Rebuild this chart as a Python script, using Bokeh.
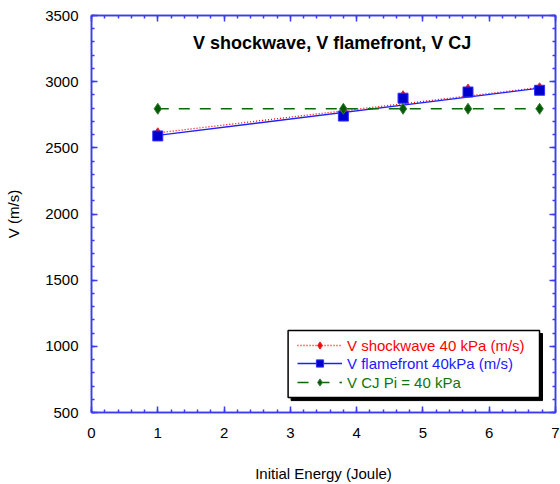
from bokeh.plotting import figure
from bokeh.models import (Range1d, LinearAxis, SingleIntervalTicker, Legend, LegendItem,
                          Label, BoxAnnotation, CustomLabelingPolicy)
from bokeh.embed import file_html
from bokeh.resources import INLINE

# ---- data ----
energy = [1.0, 3.8, 4.7, 5.68, 6.76]
v_shock = [2610, 2785, 2890, 2940, 2950]
v_flame = [2590, 2740, 2875, 2922, 2935]
v_cj = [2795, 2795, 2795, 2795, 2795]
# trend lines drawn in the original (end points)
shock_fit_x = [1.0, 6.76]
shock_fit_y = [2613, 2956]
flame_fit_x = [1.0, 6.76]
flame_fit_y = [2594, 2951]

x_ticks = [0, 1, 2, 3, 4, 5, 6, 7]
y_ticks = [500, 1000, 1500, 2000, 2500, 3000, 3500]

AX = "#3b3bf0"
FONT = "Liberation Sans"

p = figure(width=560, height=484, output_backend="svg", toolbar_location=None,
           x_range=Range1d(x_ticks[0], x_ticks[-1]), y_range=Range1d(y_ticks[0], y_ticks[-1]),
           min_border_left=91, min_border_right=4, min_border_top=15, min_border_bottom=72,
           x_axis_label="Initial Energy (Joule)", y_axis_label="V (m/s)")
p.background_fill_color = "white"
p.border_fill_color = "white"
p.grid.visible = False
p.outline_line_color = AX
p.outline_line_width = 1.5

no_labels = CustomLabelingPolicy(code="""
const all = [...indices];
for (const i of all) indices.unset(i);
return indices;
""")

def style_axis(ax, interval, labels=True):
    ax.ticker = SingleIntervalTicker(interval=interval, num_minor_ticks=5)
    ax.axis_line_color = AX
    ax.axis_line_width = 1.5
    ax.major_tick_line_color = AX
    ax.minor_tick_line_color = AX
    ax.major_tick_line_width = 1.5
    ax.minor_tick_line_width = 1.5
    ax.major_tick_in = 6
    ax.major_tick_out = 0
    ax.minor_tick_in = 3
    ax.minor_tick_out = 0
    ax.major_label_text_font = FONT
    ax.major_label_text_color = "black"
    ax.axis_label_text_font = FONT
    ax.axis_label_text_font_style = "normal"
    ax.axis_label_text_color = "black"
    if labels:
        ax.major_label_text_font_size = "15px"
        ax.axis_label_text_font_size = "15px"
    else:
        ax.major_label_text_font_size = "1px"
        ax.major_label_standoff = 0
        ax.major_label_policy = no_labels

style_axis(p.xaxis[0], 1)
style_axis(p.yaxis[0], 500)
p.xaxis[0].major_label_standoff = 15
p.xaxis[0].axis_label_standoff = 24
p.yaxis[0].major_label_standoff = 13
p.yaxis[0].axis_label_standoff = 20

top_ax = LinearAxis()
style_axis(top_ax, 1, labels=False)
p.add_layout(top_ax, "above")
right_ax = LinearAxis()
style_axis(right_ax, 500, labels=False)
p.add_layout(right_ax, "right")

RED = "#ff0000"
BLUE = "#0000cc"
GREEN = "#0a6a0a"

# trend lines
r_line = p.line(shock_fit_x, shock_fit_y, line_color=RED, line_width=1.3, line_dash="1 2")
b_line = p.line(flame_fit_x, flame_fit_y, line_color="#2020ff", line_width=1.3)
g_line = p.line(energy, v_cj, line_color=GREEN, line_width=1.5, line_dash="11 10")

r_pts = p.scatter(energy, v_shock, marker="diamond", size=11, fill_color=RED, line_color="#ee2020")
b_pts = p.scatter(energy, v_flame, marker="square", size=10, fill_color=BLUE, line_color="#3030ff")
g_pts = p.scatter(energy, v_cj, marker="diamond", size=11, fill_color="#005a00", line_color="#3a7a3a")

# title inside the plot
p.add_layout(Label(x=3.63, y=3290, text="V shockwave, V flamefront, V CJ",
                   text_font=FONT, text_font_style="bold", text_font_size="18px",
                   text_align="center", text_baseline="middle", text_color="black"))

# legend box + shadow
p.add_layout(BoxAnnotation(left=3.011, right=6.804, top=1097, bottom=590,
                           fill_color="black", fill_alpha=1, line_color="black", line_alpha=1))
p.add_layout(BoxAnnotation(left=2.966, right=6.759, top=1120, bottom=613,
                           fill_color="white", fill_alpha=1, line_color="black",
                           line_width=1.5, line_alpha=1))

def add_leg(label, renderers, color, vy):
    leg = Legend(items=[LegendItem(label=label, renderers=renderers)],
                 location=(206, vy), padding=0, margin=0, spacing=0,
                 glyph_width=45, glyph_height=18, label_height=18, label_standoff=5,
                 border_line_color=None, background_fill_alpha=0,
                 label_text_font=FONT, label_text_font_size="15px", label_text_color=color)
    p.add_layout(leg, "center")

add_leg("V shockwave 40 kPa (m/s)", [r_line, r_pts], RED, 58)
add_leg("V flamefront 40kPa (m/s)", [b_line, b_pts], "#1a1aff", 40)
add_leg("V CJ Pi = 40 kPa", [g_line, g_pts], "#107510", 21)

open("out.html", "w").write(file_html(p, INLINE))
